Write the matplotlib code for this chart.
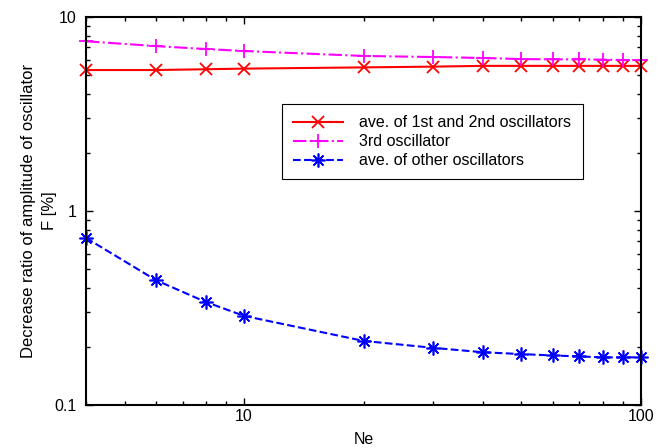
import matplotlib
matplotlib.use("Agg")
import matplotlib.pyplot as plt
from matplotlib.ticker import LogLocator, NullFormatter, FixedLocator, FixedFormatter

plt.rcParams['font.family'] = ['Liberation Sans', 'DejaVu Sans']

ne = [4, 6, 8, 10, 20, 30, 40, 50, 60, 70, 80, 90, 100]
first_second = [5.33, 5.33, 5.38, 5.42, 5.5, 5.55, 5.6, 5.6, 5.6, 5.6, 5.6, 5.6, 5.6]
third = [7.5, 7.08, 6.84, 6.68, 6.3, 6.22, 6.15, 6.07, 6.05, 6.05, 6.03, 6.0, 6.0]
others = [0.726, 0.44, 0.34, 0.288, 0.214, 0.197, 0.187, 0.183, 0.18, 0.178, 0.176, 0.176, 0.176]

fig = plt.figure(figsize=(6.67, 4.48), dpi=100)
ax = fig.add_axes([0.129, 0.096, 0.832, 0.866])

ax.plot(ne, first_second, color='red', ls='-', lw=1.5, marker='x', ms=9, mew=1.3,
        label='ave. of 1st and 2nd oscillators', clip_on=False)
ax.plot(ne, third, color='magenta', ls='-.', lw=1.5, marker='+', ms=10, mew=1.3,
        label='3rd oscillator', clip_on=False)
ax.plot(ne, others, color='blue', ls='--', lw=1.5, marker=(8, 2, 0), ms=10, mew=1.2,
        label='ave. of other oscillators', clip_on=False)

ax.set_xscale('log')
ax.set_yscale('log')
ax.set_xlim(4, 100)
ax.set_ylim(0.1, 10)

ax.xaxis.set_major_locator(FixedLocator([10, 100]))
ax.xaxis.set_major_formatter(FixedFormatter(['10', '100']))
ax.xaxis.set_minor_locator(LogLocator(base=10, subs=range(2, 10)))
ax.xaxis.set_minor_formatter(NullFormatter())
ax.yaxis.set_major_locator(FixedLocator([0.1, 1, 10]))
ax.yaxis.set_major_formatter(FixedFormatter(['0.1', '1', '10']))
ax.yaxis.set_minor_locator(LogLocator(base=10, subs=range(2, 10)))
ax.yaxis.set_minor_formatter(NullFormatter())

ax.tick_params(which='both', direction='in', top=True, right=True, labelsize=11.5)
ax.tick_params(which='major', length=5, width=1)
ax.tick_params(which='minor', length=3, width=1)
ax.tick_params(axis='x', pad=3)
ax.tick_params(axis='y', pad=7)
for s in ax.spines.values():
    s.set_linewidth(1.5)

ax.set_xlabel('Ne', fontsize=11.5, labelpad=6)
ax.set_ylabel('Decrease ratio of amplitude of oscillator\nF [%]', fontsize=12,
              multialignment='center', labelpad=-2, linespacing=1.5)

leg = ax.legend(loc='upper left', bbox_to_anchor=(0.353, 0.776), fontsize=11.5,
                frameon=True, fancybox=False, edgecolor='black', framealpha=1,
                handlelength=3.1, handletextpad=1.05, borderpad=0.7,
                labelspacing=0.25, borderaxespad=0)
leg.get_frame().set_linewidth(0.8)

fig.savefig('out.png', dpi=100)
